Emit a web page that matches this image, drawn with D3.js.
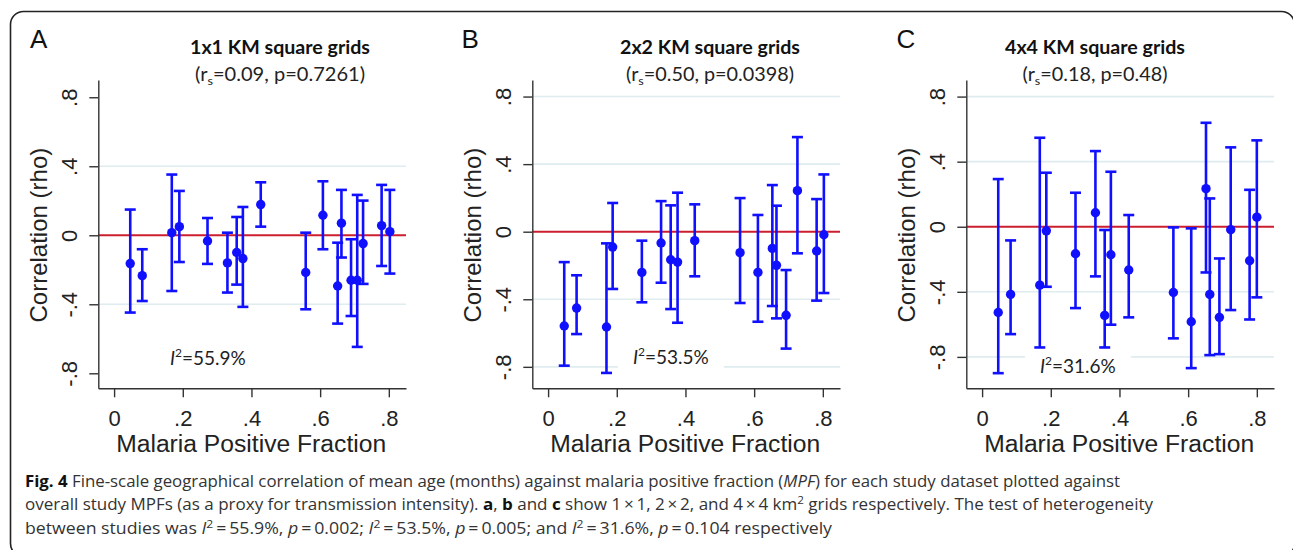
<!DOCTYPE html>
<html>
<head>
<meta charset="utf-8">
<script src="https://cdn.jsdelivr.net/npm/d3@7"></script>
<style>
  html, body { margin: 0; padding: 0; background: #fff; }
  svg { display: block; }
</style>
</head>
<body>
<script>
// ---------------- DATA ----------------
const xTicks = [0, 0.2, 0.4, 0.6, 0.8];
const yTicks = [-0.8, -0.4, 0, 0.4, 0.8];
const xDomain = [-0.046, 0.85];

// Panel A: 1x1 km grids
const mpfA = [0.047,0.082,0.168,0.190,0.272,0.330,0.357,0.375,0.427,0.558,0.608,0.651,0.662,0.690,0.708,0.725,0.779,0.803];
const rhoA = [-0.164,-0.234,0.015,0.050,-0.033,-0.160,-0.100,-0.135,0.178,-0.216,0.116,-0.294,0.070,-0.261,-0.261,-0.048,0.056,0.021];
const hiA  = [0.149,-0.081,0.352,0.257,0.100,0.015,0.106,0.164,0.307,0.015,0.313,-0.043,0.263,-0.023,0.234,0.201,0.292,0.263];
const loA  = [-0.448,-0.381,-0.323,-0.155,-0.166,-0.332,-0.286,-0.415,0.050,-0.429,-0.081,-0.512,-0.129,-0.468,-0.647,-0.282,-0.178,-0.222];
const yDomainA = [-0.887, 0.9];
const gridA = [0.4, -0.4];

// Panel B: 2x2 km grids
const mpfB = [0.047,0.083,0.170,0.188,0.273,0.329,0.357,0.377,0.427,0.559,0.611,0.653,0.665,0.693,0.726,0.782,0.803];
const rhoB = [-0.558,-0.452,-0.564,-0.091,-0.241,-0.067,-0.166,-0.180,-0.053,-0.124,-0.241,-0.099,-0.199,-0.495,0.243,-0.114,-0.018];
const hiB  = [-0.180,-0.258,-0.069,0.170,-0.053,0.181,0.156,0.231,0.162,0.199,0.099,0.276,0.154,-0.227,0.560,0.193,0.339];
const loB  = [-0.793,-0.606,-0.836,-0.339,-0.418,-0.302,-0.458,-0.539,-0.264,-0.422,-0.533,-0.440,-0.513,-0.692,-0.128,-0.408,-0.363];
const yDomainB = [-0.927, 0.898];
const gridB = [0.8, 0.4, -0.4, -0.8];

// Panel C: 4x4 km grids
const mpfC = [0.047,0.083,0.168,0.187,0.272,0.330,0.357,0.375,0.427,0.557,0.609,0.652,0.663,0.691,0.724,0.779,0.800];
const rhoC = [-0.527,-0.416,-0.359,-0.025,-0.166,0.086,-0.545,-0.172,-0.266,-0.404,-0.584,0.234,-0.416,-0.557,-0.018,-0.209,0.059];
const hiC  = [0.293,-0.084,0.547,0.332,0.209,0.465,-0.020,0.338,0.072,-0.004,-0.010,0.639,0.174,-0.195,0.488,0.227,0.531];
const loC  = [-0.900,-0.660,-0.742,-0.369,-0.500,-0.305,-0.742,-0.602,-0.557,-0.686,-0.869,-0.281,-0.789,-0.783,-0.512,-0.570,-0.434];
const yDomainC = [-0.993, 0.902];
const gridC = [0.8, 0.4, -0.4, -0.8];

const letters = ["A", "B", "C"];
const titles = ["1x1 KM square grids", "2x2 KM square grids", "4x4 KM square grids"];
const rsValues = ["0.09", "0.50", "0.18"];
const pValues = ["0.7261", "0.0398", "0.48"];
const i2Values = ["55.9%", "53.5%", "31.6%"];

// ---------------- LAYOUT ----------------
const W = 1293, H = 550;
const plotTop = 80, plotBottom = 388.3, plotWidth = 307.7;
const layouts = [
  { left: 98.3,  titleX: 280,  subLen: 170, letterX: 30,    i2X: 170,  i2Y: 365 },
  { left: 532.3, titleX: 710,  subLen: 168, letterX: 461.5, i2X: 633,  i2Y: 364 },
  { left: 966.3, titleX: 1095, subLen: 145, letterX: 896.5, i2X: 1040, i2Y: 373 }
];
const datasets = [
  { mpf: mpfA, rho: rhoA, hi: hiA, lo: loA, yDomain: yDomainA, grid: gridA },
  { mpf: mpfB, rho: rhoB, hi: hiB, lo: loB, yDomain: yDomainB, grid: gridB },
  { mpf: mpfC, rho: rhoC, hi: hiC, lo: loC, yDomain: yDomainC, grid: gridC }
];

const BLUE = "#1010ff", RED = "#cc1f2e", GRID = "#dfecf0", AXIS = "#333";
const axisFont = "'Liberation Sans', Arial, sans-serif";
const titleFont = "Lato, 'Open Sans', sans-serif";

const svg = d3.select("body").append("svg").attr("width", W).attr("height", H);

// frame
svg.append("rect")
  .attr("x", 10.5).attr("y", 11.5).attr("width", 1284).attr("height", 545)
  .attr("rx", 13).attr("ry", 13)
  .attr("fill", "none").attr("stroke", "#222").attr("stroke-width", 1.6);

const fmtTick = d => {
  if (Math.abs(d) < 1e-9) return "0";
  return (d < 0 ? "-" : "") + "." + Math.round(Math.abs(d) * 10);
};

datasets.forEach((ds, i) => {
  const L = layouts[i];
  const x = d3.scaleLinear().domain(xDomain).range([L.left, L.left + plotWidth]);
  const y = d3.scaleLinear().domain(ds.yDomain).range([plotBottom, plotTop]);
  const g = svg.append("g");

  // gridlines
  g.selectAll("line.grid").data(ds.grid).join("line")
    .attr("class", "grid")
    .attr("x1", x.range()[0]).attr("x2", x.range()[1])
    .attr("y1", d => y(d)).attr("y2", d => y(d))
    .attr("stroke", GRID).attr("stroke-width", 1.6);

  // I^2 label with white box
  const i2g = g.append("g");
  const i2t = i2g.append("text")
    .attr("x", L.i2X).attr("y", L.i2Y)
    .attr("font-family", titleFont).attr("font-size", 19).attr("fill", "#222");
  i2t.append("tspan").attr("font-style", "italic").text("I");
  i2t.append("tspan").attr("font-size", 12).attr("dy", -8).text("2");
  i2t.append("tspan").attr("dy", 8).text("=" + i2Values[i]);
  const bb = i2t.node().getBBox();
  i2g.insert("rect", "text")
    .attr("x", bb.x - 15).attr("y", bb.y - 2)
    .attr("width", bb.width + 30).attr("height", bb.height + 4)
    .attr("fill", "#fff");

  // zero reference line
  g.append("line")
    .attr("x1", x.range()[0]).attr("x2", x.range()[1])
    .attr("y1", y(0)).attr("y2", y(0))
    .attr("stroke", RED).attr("stroke-width", 2);

  // error bars
  const idx = d3.range(ds.mpf.length);
  const capW = 5.5;
  const bars = g.append("g").attr("stroke", BLUE).attr("stroke-width", 2.6);
  bars.selectAll("line.v").data(idx).join("line")
    .attr("x1", k => x(ds.mpf[k])).attr("x2", k => x(ds.mpf[k]))
    .attr("y1", k => y(ds.lo[k])).attr("y2", k => y(ds.hi[k]));
  bars.selectAll("line.cu").data(idx).join("line")
    .attr("x1", k => x(ds.mpf[k]) - capW).attr("x2", k => x(ds.mpf[k]) + capW)
    .attr("y1", k => y(ds.hi[k])).attr("y2", k => y(ds.hi[k]));
  bars.selectAll("line.cl").data(idx).join("line")
    .attr("x1", k => x(ds.mpf[k]) - capW).attr("x2", k => x(ds.mpf[k]) + capW)
    .attr("y1", k => y(ds.lo[k])).attr("y2", k => y(ds.lo[k]));
  g.selectAll("circle.pt").data(idx).join("circle")
    .attr("cx", k => x(ds.mpf[k])).attr("cy", k => y(ds.rho[k]))
    .attr("r", 4.7).attr("fill", BLUE);

  // axes
  const yAxis = g.append("g").attr("transform", `translate(${L.left},0)`)
    .call(d3.axisLeft(y).tickValues(yTicks).tickFormat(fmtTick).tickSize(9).tickSizeOuter(0));
  const xAxis = g.append("g").attr("transform", `translate(0,${plotBottom})`)
    .call(d3.axisBottom(x).tickValues(xTicks).tickFormat(fmtTick).tickSize(9).tickSizeOuter(0));
  [yAxis, xAxis].forEach(a => {
    a.attr("font-family", axisFont).attr("font-size", 22);
    a.select(".domain").attr("stroke", AXIS).attr("stroke-width", 1.4);
    a.selectAll(".tick line").attr("stroke", AXIS).attr("stroke-width", 1.4);
    a.selectAll(".tick text").attr("fill", "#222");
  });
  yAxis.selectAll(".tick text")
    .attr("x", null).attr("dy", null)
    .attr("text-anchor", "middle")
    .attr("transform", "translate(-21,0) rotate(-90)");
  xAxis.selectAll(".tick text").attr("y", 37.5).attr("dy", null);

  // axis titles
  g.append("text")
    .attr("transform", `translate(${L.left - 51},${(plotTop + plotBottom) / 2 + 1}) rotate(-90)`)
    .attr("text-anchor", "middle")
    .attr("font-family", axisFont).attr("font-size", 24).attr("fill", "#222")
    .text("Correlation (rho)");
  g.append("text")
    .attr("x", L.left + plotWidth / 2 - 1).attr("y", 452)
    .attr("text-anchor", "middle")
    .attr("font-family", axisFont).attr("font-size", 23).attr("fill", "#222")
    .attr("textLength", 270).attr("lengthAdjust", "spacingAndGlyphs")
    .text("Malaria Positive Fraction");

  // panel letter
  g.append("text").attr("x", L.letterX).attr("y", 48)
    .attr("font-family", axisFont).attr("font-size", 26).attr("fill", "#111")
    .text(letters[i]);

  // titles
  g.append("text").attr("x", L.titleX).attr("y", 54)
    .attr("text-anchor", "middle")
    .attr("font-family", titleFont).attr("font-weight", "bold").attr("font-size", 18.5).attr("fill", "#111")
    .attr("textLength", 180).attr("lengthAdjust", "spacingAndGlyphs")
    .text(titles[i]);
  const st = g.append("text").attr("x", L.titleX).attr("y", 81)
    .attr("text-anchor", "middle")
    .attr("font-family", titleFont).attr("font-size", 19).attr("fill", "#222")
    .attr("textLength", L.subLen).attr("lengthAdjust", "spacingAndGlyphs");
  st.append("tspan").text("(r");
  st.append("tspan").attr("font-size", 12).attr("dy", 4).text("s");
  st.append("tspan").attr("dy", -4).text(`=${rsValues[i]}, p=${pValues[i]})`);
});

// ---------------- CAPTION ----------------
const capFont = "'Open Sans', 'Noto Sans', sans-serif";
const capX = 25;
function capLine(yPos, len, parts) {
  const t = svg.append("text").attr("x", capX).attr("y", yPos)
    .attr("font-family", capFont).attr("font-size", 16).attr("fill", "#333")
    .attr("textLength", len).attr("lengthAdjust", "spacingAndGlyphs");
  parts.forEach(p => {
    const s = t.append("tspan").text(p.t);
    if (p.b) s.attr("font-weight", "bold").attr("fill", "#111");
    if (p.i) s.attr("font-style", "italic");
    if (p.sup) s.attr("font-size", 11).attr("dy", -6);
    if (p.down) s.attr("dy", 6);
  });
}
capLine(487, 1095, [
  { t: "Fig. 4", b: true },
  { t: " Fine-scale geographical correlation of mean age (months) against malaria positive fraction (" },
  { t: "MPF", i: true },
  { t: ") for each study dataset plotted against" }
]);
capLine(510, 1128, [
  { t: "overall study MPFs (as a proxy for transmission intensity). " },
  { t: "a", b: true }, { t: ", " }, { t: "b", b: true }, { t: " and " }, { t: "c", b: true },
  { t: " show 1\u2009\u00d7\u20091, 2\u2009\u00d7\u20092, and 4\u2009\u00d7\u20094 km" },
  { t: "2", sup: true },
  { t: " grids respectively. The test of heterogeneity", down: true }
]);
capLine(534, 807, [
  { t: "between studies was " },
  { t: "I", i: true }, { t: "2", sup: true }, { t: "\u2009=\u200955.9%, ", down: true },
  { t: "p", i: true }, { t: "\u2009=\u20090.002; " },
  { t: "I", i: true }, { t: "2", sup: true }, { t: "\u2009=\u200953.5%, ", down: true },
  { t: "p", i: true }, { t: "\u2009=\u20090.005; and " },
  { t: "I", i: true }, { t: "2", sup: true }, { t: "\u2009=\u200931.6%, ", down: true },
  { t: "p", i: true }, { t: "\u2009=\u20090.104 respectively" }
]);
</script>
</body>
</html>
